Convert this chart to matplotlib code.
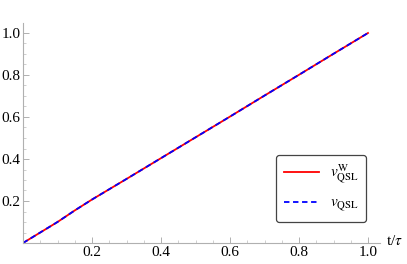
import matplotlib.pyplot as plt
import numpy as np
from matplotlib.ticker import MultipleLocator, FixedLocator

plt.rcParams['font.family'] = ['Liberation Serif', 'DejaVu Serif']
plt.rcParams['mathtext.fontset'] = 'stix'

# data
t = [0.0, 0.05, 0.1, 0.15, 0.2, 0.25, 0.3, 0.4, 0.5, 0.6, 0.7, 0.8, 0.9, 1.0]
v_w = [0.0, 0.050, 0.100, 0.155, 0.207, 0.256, 0.305, 0.404, 0.503, 0.602, 0.702, 0.801, 0.901, 1.0]
v_qsl = [0.0, 0.050, 0.100, 0.155, 0.207, 0.256, 0.305, 0.404, 0.503, 0.602, 0.702, 0.801, 0.901, 1.0]
x_ticks = [0.2, 0.4, 0.6, 0.8, 1.0]
y_ticks = [0.2, 0.4, 0.6, 0.8, 1.0]

W, H = 407, 264
fig = plt.figure(figsize=(W / 100, H / 100), dpi=100)

x0, y0 = 23, 243          # pixel of data origin
sx, sy = 345, 210         # pixels per unit
xmax, ymax = 1.035, 1.048
ax = fig.add_axes([x0 / W, (H - y0) / H, sx * xmax / W, sy * ymax / H])
ax.set_xlim(0, xmax)
ax.set_ylim(0, ymax)

ax.plot(t, v_w, color='#ff0000', lw=1.3, label=r'$v_{\mathrm{QSL}}^{\mathrm{W}}$')
ax.plot(t, v_qsl, color='#0000ff', lw=1.3, ls=(0, (3, 2)), label=r'$v_{\mathrm{QSL}}$')

for s in ['top', 'right']:
    ax.spines[s].set_visible(False)
for s in ['left', 'bottom']:
    ax.spines[s].set_color('#b0b0b0')
    ax.spines[s].set_linewidth(0.8)

ax.xaxis.set_major_locator(FixedLocator(x_ticks))
ax.yaxis.set_major_locator(FixedLocator(y_ticks))
ax.xaxis.set_minor_locator(MultipleLocator(0.05))
ax.yaxis.set_minor_locator(MultipleLocator(0.05))
ax.set_xticklabels([f'{v:.1f}' for v in x_ticks])
ax.set_yticklabels([f'{v:.1f}' for v in y_ticks])
ax.tick_params(which='major', direction='in', length=4, width=0.7, color='#b0b0b0',
               labelsize=11, pad=2)
ax.tick_params(which='minor', direction='in', length=2, width=0.6, color='#c8c8c8')
ax.patch.set_alpha(0)

fig.text(386 / W, 1 - 241 / H, r't/$\tau$', fontsize=11, ha='left', va='center')

leg = ax.legend(loc='lower right', bbox_to_anchor=((366 - x0) / (sx * xmax), (243 - 222) / (sy * ymax)),
                fontsize=11, frameon=True, fancybox=True, handlelength=2.3,
                borderpad=0.5, labelspacing=0.7, handletextpad=0.7, borderaxespad=0)
leg.get_frame().set_edgecolor('#444444')
leg.get_frame().set_linewidth(0.9)
leg.get_frame().set_alpha(1)

fig.savefig('out.png', dpi=100)
